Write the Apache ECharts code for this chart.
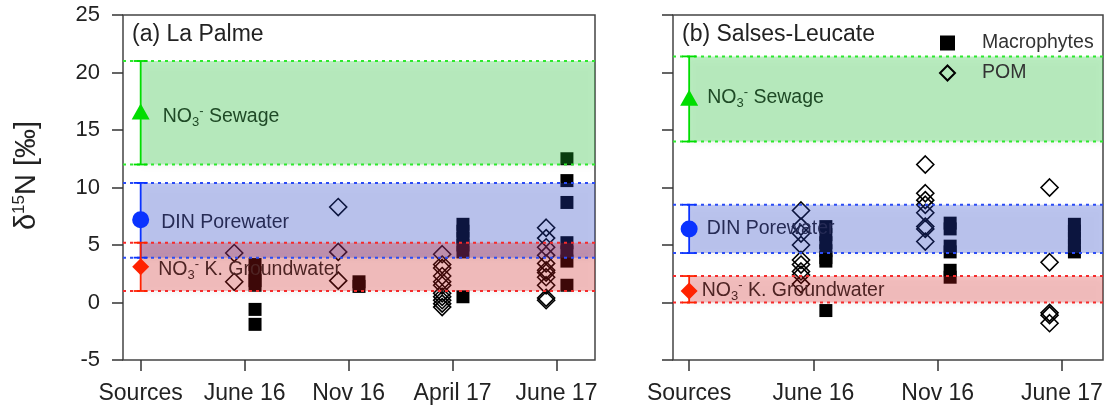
<!DOCTYPE html>
<html>
<head>
<meta charset="utf-8">
<script src="https://cdn.jsdelivr.net/npm/echarts@6/dist/echarts.min.js"></script>
<style>
  html, body { margin: 0; padding: 0; background: #fff; }
  #chart { width: 1107px; height: 410px; }
</style>
</head>
<body>
<div id="chart"></div>
<script>
// categories
const datesA = ['Sources', 'June 16', 'Nov 16', 'April 17', 'June 17']
const datesB = ['Sources', 'June 16', 'Nov 16', 'June 17']
const yTicks = [-5, 0, 5, 10, 15, 20, 25]

// source ranges: [low, mean, high]
const sewageA = [12.0, 16.6, 21.0]
const porewaterA = [3.9, 7.2, 10.4]
const groundwaterA = [1.0, 3.1, 5.2]
const sewageB = [14.0, 17.8, 21.4]
const porewaterB = [4.3, 6.4, 8.5]
const groundwaterB = [0.0, 1.0, 2.3]

// one list per sampling date (after Sources)
const pomA = [
  [4.3, 1.8],
  [8.3, 4.4, 1.9],
  [4.2, 3.3, 3.0, 2.3, 1.8, 1.5, 0.8, 0.5, 0.2, -0.1, -0.4],
  [6.5, 5.6, 4.8, 4.1, 3.4, 2.8, 2.6, 2.2, 1.5, 0.4, 0.2]
]
const macroA = [
  [3.3, 2.6, 1.9, 1.5, -0.6, -1.9],
  [1.8, 1.4],
  [6.8, 6.2, 5.6, 5.0, 4.4, 0.5],
  [12.5, 10.6, 8.7, 5.2, 4.4, 3.6, 1.5]
]
const pomB = [
  [8.0, 6.6, 6.0, 5.0, 3.7, 3.3, 2.7, 2.4, 1.6],
  [12.0, 9.5, 8.9, 8.5, 7.8, 6.6, 6.4, 5.3],
  [10.0, 3.5, -0.9, -1.1, -1.8]
]
const macroB = [
  [6.6, 5.9, 5.2, 4.5, 3.9, 3.6, -0.7],
  [6.9, 6.4, 4.9, 4.4, 2.8, 2.2],
  [6.8, 6.2, 5.6, 5.0, 4.4]
]

// styles for sewage / porewater / groundwater
const bandFill = ['rgba(30,200,50,0.3)', 'rgba(40,70,210,0.3)', 'rgba(220,30,30,0.28)']
const bandLine = ['#2ee82e', '#2b4cf5', '#f52b2b']
const markColor = ['#00dd00', '#0a33ff', '#ff2200']
const markSymbol = ['triangle', 'circle', 'diamond']
const labelColor = ['#1f4a26', '#262b55', '#4e2424']
const labelText = [
  '{n|NO}{sub|3}{sup|-}{n| Sewage}',
  '{n|DIN Porewater}',
  '{n|NO}{sub|3}{sup|-}{n| K. Groundwater}'
]
const rich = {
  n: { fontSize: 19.5, lineHeight: 24 },
  sub: { fontSize: 13, lineHeight: 12, verticalAlign: 'bottom' },
  sup: { fontSize: 13, lineHeight: 12, verticalAlign: 'top' }
}

const chart = echarts.init(document.getElementById('chart'))

const toPoints = (lists, shift) => {
  const out = []
  lists.forEach((vals, i) => vals.forEach(v => out.push([i + 1 + shift, v])))
  return out
}

const panelSeries = (idx, ranges, pom, macro, labelDist, labelDy) => [
  {
    name: 'Macrophytes',
    type: 'scatter',
    xAxisIndex: idx, yAxisIndex: idx,
    symbol: 'rect', symbolSize: 13,
    itemStyle: { color: '#000', opacity: 1 },
    z: 2,
    data: toPoints(macro, 0.1)
  },
  {
    name: 'POM',
    type: 'scatter',
    xAxisIndex: idx, yAxisIndex: idx,
    symbol: 'diamond', symbolSize: 17,
    itemStyle: { color: 'rgba(0,0,0,0)', borderColor: '#000', borderWidth: 1.6, opacity: 1 },
    z: 2,
    data: toPoints(pom, -0.1)
  },
  // shaded source ranges
  {
    type: 'custom',
    xAxisIndex: idx, yAxisIndex: idx,
    z: 3, silent: true,
    data: ranges.map((r, k) => [r[0], r[2], k]),
    renderItem: (params, api) => {
      const cs = params.coordSys
      const lo = api.coord([0, api.value(0)])
      const hi = api.coord([0, api.value(1)])
      return {
        type: 'rect',
        shape: { x: lo[0], y: hi[1], width: cs.x + cs.width - lo[0], height: lo[1] - hi[1] },
        style: {
          fill: bandFill[api.value(2)],
          shadowBlur: 6, shadowOffsetY: 3, shadowColor: 'rgba(0,0,0,0.12)'
        }
      }
    }
  },
  // dotted limits
  {
    type: 'custom',
    xAxisIndex: idx, yAxisIndex: idx,
    z: 4, silent: true,
    data: ranges.map((r, k) => [r[0], r[2], k]),
    renderItem: (params, api) => {
      const cs = params.coordSys
      const k = api.value(2)
      const style = { stroke: bandLine[k], lineWidth: 2, lineDash: [3, 4] }
      return {
        type: 'group',
        children: [0, 1].map(j => {
          const y = api.coord([0, api.value(j)])[1]
          return { type: 'line', shape: { x1: cs.x, y1: y, x2: cs.x + cs.width, y2: y }, style }
        })
      }
    }
  },
  // error bars at Sources
  {
    type: 'custom',
    xAxisIndex: idx, yAxisIndex: idx,
    z: 5, silent: true,
    data: ranges.map((r, k) => [r[0], r[2], k]),
    renderItem: (params, api) => {
      const k = api.value(2)
      const lo = api.coord([0, api.value(0)])
      const hi = api.coord([0, api.value(1)])
      const style = { stroke: markColor[k], lineWidth: 1.8 }
      return {
        type: 'group',
        children: [
          { type: 'line', shape: { x1: lo[0], y1: lo[1], x2: hi[0], y2: hi[1] }, style },
          { type: 'line', shape: { x1: lo[0] - 7, y1: lo[1], x2: lo[0] + 7, y2: lo[1] }, style },
          { type: 'line', shape: { x1: hi[0] - 7, y1: hi[1], x2: hi[0] + 7, y2: hi[1] }, style }
        ]
      }
    }
  },
  // source means with labels
  {
    type: 'scatter',
    xAxisIndex: idx, yAxisIndex: idx,
    z: 6, silent: true,
    data: ranges.map((r, k) => ({
      value: [0, r[1]],
      symbol: markSymbol[k],
      symbolSize: k === 0 ? [18, 16] : 17,
      itemStyle: { color: markColor[k], opacity: 1 },
      label: {
        show: true, position: 'right',
        distance: labelDist[k], offset: [0, labelDy[k]],
        formatter: labelText[k], color: labelColor[k], rich
      }
    }))
  }
]

const axisX = (idx, names, min, max) => ({
  gridIndex: idx, type: 'value', min, max,
  axisLine: { show: false, onZero: false },
  splitLine: { show: false },
  axisTick: {
    show: true, length: 11, customValues: names.map((_, i) => i),
    lineStyle: { color: '#333', width: 1.5 }
  },
  axisLabel: {
    customValues: names.map((_, i) => i),
    formatter: v => names[Math.round(v)],
    margin: 22, fontSize: 23, color: '#222'
  }
})

const axisY = (idx, showLabels) => ({
  gridIndex: idx, type: 'value', min: -5, max: 25, interval: 5,
  axisLine: { show: false, onZero: false },
  splitLine: { show: false },
  axisTick: { show: true, length: 11, lineStyle: { color: '#333', width: 1.5 } },
  axisLabel: {
    show: showLabels, margin: 23, fontSize: 22, color: '#222',
    formatter: v => (yTicks.includes(v) ? String(v) : '')
  }
})

const yA = axisY(0, true)
yA.name = '{a|δ}{s|15}{a|N [‰]}'
yA.nameLocation = 'middle'
yA.nameRotate = 90
yA.nameGap = 80
yA.nameTextStyle = {
  padding: [0, 0, 0, 24],
  rich: {
    a: { fontSize: 29, lineHeight: 32, color: '#222' },
    s: { fontSize: 17, lineHeight: 17, verticalAlign: 'top', color: '#222' }
  }
}

chart.setOption({
  animation: false,
  textStyle: { fontFamily: 'Liberation Sans, Arial, sans-serif' },
  title: [
    { text: '(a) La Palme', left: 132, top: 23, padding: 0,
      textStyle: { fontSize: 23, fontWeight: 'normal', color: '#222' } },
    { text: '(b) Salses-Leucate', left: 682, top: 23, padding: 0,
      textStyle: { fontSize: 23, fontWeight: 'normal', color: '#222' } }
  ],
  legend: {
    data: ['Macrophytes', 'POM'],
    orient: 'vertical',
    left: 939, top: 33, padding: 0,
    itemWidth: 15, itemHeight: 15, itemGap: 10,
    selectedMode: false,
    textStyle: { fontSize: 19.5, color: '#333', padding: [0, 0, 0, 22] }
  },
  grid: [
    { left: 123, top: 15, width: 472, height: 345, show: true, borderColor: '#444', borderWidth: 1.5 },
    { left: 673, top: 15, width: 430, height: 345, show: true, borderColor: '#444', borderWidth: 1.5 }
  ],
  xAxis: [axisX(0, datesA, -0.17, 4.37), axisX(1, datesB, -0.13, 3.33)],
  yAxis: [yA, axisY(1, false)],
  series: [
    ...panelSeries(0, [sewageA, porewaterA, groundwaterA], pomA, macroA, [13, 12, 9], [5, 3, 3]),
    ...panelSeries(1, [sewageB, porewaterB, groundwaterB], pomB, macroB, [9, 9, 4], [0, 0, 0])
  ]
})
</script>
</body>
</html>
